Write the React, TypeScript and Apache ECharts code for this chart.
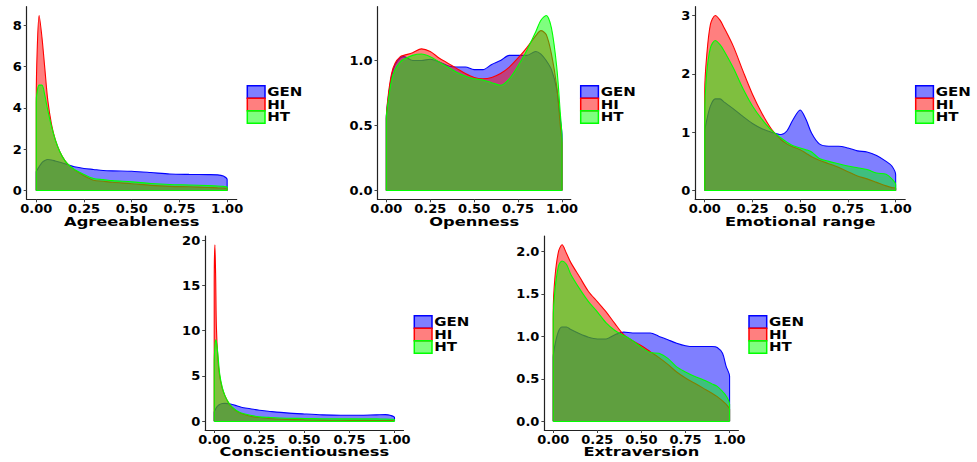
import React, { useEffect, useRef } from "react";
import * as echarts from "echarts";

// ---------- data ----------
const groups = ["GEN", "HI", "HT"];
const groupColors = ["#0000FF", "#FF0000", "#00FF00"];
const groupFills = ["rgba(0,0,255,0.5)", "rgba(255,0,0,0.5)", "rgba(0,255,0,0.5)"];

const panelTitles = ["Agreeableness", "Openness", "Emotional range", "Conscientiousness", "Extraversion"];

const xTickValues = [0, 0.25, 0.5, 0.75, 1];

// Agreeableness
const agrX = [0, 0.005, 0.015, 0.03, 0.045, 0.06, 0.08, 0.1, 0.125, 0.15, 0.175, 0.2, 0.25, 0.3, 0.35, 0.4, 0.5, 0.6, 0.7, 0.8, 0.9, 0.95, 0.98, 1];
const agrGEN = [0.9, 1.0, 1.15, 1.35, 1.45, 1.5, 1.48, 1.43, 1.37, 1.3, 1.22, 1.15, 1.07, 1.02, 0.97, 0.95, 0.93, 0.87, 0.8, 0.78, 0.77, 0.76, 0.7, 0.53];
const agrHI = [4.4, 6.8, 8.47, 7.4, 5.9, 4.4, 3.2, 2.45, 1.85, 1.45, 1.18, 1.0, 0.72, 0.5, 0.45, 0.4, 0.33, 0.25, 0.2, 0.18, 0.15, 0.13, 0.12, 0.11];
const agrHT = [4.3, 4.8, 5.1, 5.1, 4.6, 3.9, 3.1, 2.45, 1.85, 1.45, 1.2, 1.02, 0.78, 0.58, 0.53, 0.48, 0.42, 0.34, 0.29, 0.27, 0.24, 0.22, 0.2, 0.17];
const agrYTicks = [0, 2, 4, 6, 8];

// Openness
const opeX = [0, 0.01, 0.03, 0.05, 0.08, 0.1, 0.15, 0.2, 0.25, 0.3, 0.35, 0.4, 0.45, 0.5, 0.55, 0.6, 0.65, 0.7, 0.75, 0.8, 0.85, 0.88, 0.91, 0.94, 0.97, 0.99, 1];
const opeGEN = [0.55, 0.7, 0.88, 0.97, 1.02, 1.03, 1.0, 1.0, 1.01, 0.99, 0.96, 0.95, 0.95, 0.93, 0.93, 0.97, 1.0, 1.04, 1.04, 1.04, 1.07, 1.05, 1.0, 0.93, 0.78, 0.55, 0.42];
const opeHI = [0.55, 0.72, 0.9, 0.98, 1.03, 1.04, 1.06, 1.09, 1.07, 1.02, 0.98, 0.94, 0.9, 0.87, 0.86, 0.87, 0.9, 0.95, 1.02, 1.1, 1.19, 1.23, 1.2, 1.05, 0.8, 0.5, 0.35];
const opeHT = [0.55, 0.68, 0.85, 0.93, 0.99, 1.01, 1.04, 1.05, 1.03, 0.99, 0.95, 0.91, 0.88, 0.86, 0.85, 0.83, 0.81, 0.86, 0.96, 1.08, 1.22, 1.31, 1.347, 1.25, 0.95, 0.6, 0.4];
const opeYTicks = [0, 0.5, 1.0];

// Emotional range
const emoX = [0, 0.01, 0.03, 0.055, 0.08, 0.1, 0.15, 0.2, 0.25, 0.3, 0.35, 0.4, 0.43, 0.46, 0.5, 0.53, 0.56, 0.6, 0.65, 0.7, 0.75, 0.8, 0.85, 0.9, 0.95, 0.98, 1];
const emoGEN = [1.0, 1.2, 1.45, 1.57, 1.57, 1.52, 1.4, 1.27, 1.15, 1.06, 1.0, 0.96, 1.02, 1.2, 1.38, 1.22, 0.98, 0.8, 0.76, 0.76, 0.73, 0.68, 0.66, 0.6, 0.5, 0.42, 0.27];
const emoHI = [1.7, 2.3, 2.85, 3.0, 2.92, 2.8, 2.47, 2.05, 1.65, 1.32, 1.05, 0.87, 0.8, 0.75, 0.7, 0.64, 0.58, 0.52, 0.46, 0.4, 0.32, 0.25, 0.2, 0.14, 0.08, 0.05, 0.04];
const emoHT = [1.3, 2.0, 2.45, 2.57, 2.5, 2.4, 2.1, 1.75, 1.45, 1.22, 1.03, 0.9, 0.83, 0.77, 0.73, 0.7, 0.66, 0.55, 0.5, 0.46, 0.42, 0.39, 0.36, 0.3, 0.28, 0.2, 0.1];
const emoYTicks = [0, 1, 2, 3];

// Conscientiousness
const conX = [0, 0.004, 0.008, 0.012, 0.02, 0.03, 0.045, 0.06, 0.08, 0.1, 0.125, 0.15, 0.2, 0.25, 0.3, 0.4, 0.5, 0.6, 0.7, 0.8, 0.9, 0.95, 0.98, 1];
const conGEN = [1.0, 1.2, 1.35, 1.5, 1.7, 1.85, 1.95, 1.97, 1.93, 1.85, 1.7, 1.55, 1.38, 1.2, 1.1, 0.92, 0.8, 0.7, 0.66, 0.66, 0.7, 0.72, 0.62, 0.4];
const conHI = [15, 19.5, 16, 10.5, 7, 5.0, 3.6, 2.8, 2.0, 1.5, 1.1, 0.85, 0.55, 0.4, 0.3, 0.2, 0.15, 0.12, 0.1, 0.09, 0.08, 0.07, 0.06, 0.05];
const conHT = [6.5, 8.3, 9.0, 8.8, 7.5, 5.3, 3.7, 2.8, 2.05, 1.55, 1.15, 0.9, 0.65, 0.48, 0.42, 0.33, 0.3, 0.27, 0.26, 0.25, 0.25, 0.24, 0.22, 0.2];
const conYTicks = [0, 5, 10, 15, 20];

// Extraversion
const extX = [0, 0.01, 0.03, 0.05, 0.075, 0.1, 0.15, 0.2, 0.25, 0.3, 0.35, 0.4, 0.45, 0.5, 0.55, 0.6, 0.65, 0.7, 0.75, 0.8, 0.85, 0.9, 0.93, 0.96, 0.98, 1];
const extGEN = [0.75, 0.9, 1.06, 1.11, 1.11, 1.08, 1.03, 0.99, 0.97, 0.97, 1.02, 1.05, 1.04, 1.04, 1.04, 1.0, 0.96, 0.92, 0.89, 0.88, 0.88, 0.88, 0.87, 0.8, 0.65, 0.53];
const extHI = [1.28, 1.7, 2.0, 2.08, 1.98, 1.87, 1.7, 1.53, 1.41, 1.29, 1.15, 1.02, 0.95, 0.89, 0.82, 0.75, 0.67, 0.58, 0.51, 0.45, 0.39, 0.33, 0.29, 0.24, 0.2, 0.14];
const extHT = [1.2, 1.55, 1.83, 1.89, 1.85, 1.73, 1.56, 1.41, 1.29, 1.16, 1.07, 1.01, 0.95, 0.87, 0.81, 0.8, 0.74, 0.64, 0.58, 0.53, 0.49, 0.44, 0.41, 0.35, 0.3, 0.2];
const extYTicks = [0, 0.5, 1.0, 1.5, 2.0];

const panelX = [agrX, opeX, emoX, conX, extX];
const panelSeries = [
  [agrGEN, agrHI, agrHT],
  [opeGEN, opeHI, opeHT],
  [emoGEN, emoHI, emoHT],
  [conGEN, conHI, conHT],
  [extGEN, extHI, extHT],
];
const panelYTicks = [agrYTicks, opeYTicks, emoYTicks, conYTicks, extYTicks];
const panelYDecimals = [0, 1, 0, 0, 1];

// ---------- layout (pixels) ----------
const layout = [
  { l: 26.7, r: 236.7, t: 6.7, b: 199.3, legX: 247.3, legY: 85.7, titleY: 221 },
  { l: 377.5, r: 570.8, t: 6.7, b: 199.3, legX: 580.7, legY: 85.7, titleY: 221 },
  { l: 695.2, r: 905.2, t: 6.7, b: 199.3, legX: 915.7, legY: 85.7, titleY: 221 },
  { l: 205.2, r: 403.5, t: 236, b: 430, legX: 414.3, legY: 315.7, titleY: 451 },
  { l: 544.4, r: 738.4, t: 236, b: 430, legX: 749, legY: 315.7, titleY: 451 },
];

const FONT = "DejaVu Sans";

export default function App() {
  const ref = useRef<HTMLDivElement>(null);

  useEffect(() => {
    if (!ref.current) return;
    const chart = echarts.init(ref.current, undefined, { renderer: "svg" });

    const grids: any[] = [];
    const xAxes: any[] = [];
    const yAxes: any[] = [];
    const series: any[] = [];
    const graphics: any[] = [];

    layout.forEach((p, i) => {
      grids.push({
        left: p.l,
        top: p.t,
        width: p.r - p.l,
        height: p.b - p.t,
        containLabel: false,
        outerBoundsMode: "none",
      });
      const xs = panelX[i];
      const maxV = Math.max(...panelSeries[i].map((s) => Math.max(...s)));
      const axisLine = { show: true, onZero: false, lineStyle: { color: "#222", width: 1.2 } };
      const tickStyle = { show: true, length: 3, lineStyle: { color: "#444", width: 1 } };
      const labelStyle = {
        fontFamily: FONT,
        fontWeight: "bold",
        fontSize: 13,
        color: "#000",
      };
      xAxes.push({
        type: "value",
        gridIndex: i,
        min: -0.05,
        max: 1.05,
        z: 10,
        axisLine,
        axisTick: { ...tickStyle, customValues: xTickValues },
        axisLabel: {
          ...labelStyle,
          margin: 3,
          customValues: xTickValues,
          formatter: (v: number) => v.toFixed(2),
        },
        splitLine: { show: false },
      });
      const yt = panelYTicks[i];
      const dec = panelYDecimals[i];
      yAxes.push({
        type: "value",
        gridIndex: i,
        min: -0.05 * maxV,
        max: 1.05 * maxV,
        z: 10,
        axisLine,
        axisTick: { ...tickStyle, customValues: yt },
        axisLabel: {
          ...labelStyle,
          margin: 5,
          customValues: yt,
          formatter: (v: number) => v.toFixed(dec),
        },
        splitLine: { show: false },
      });
      panelSeries[i].forEach((vals, g) => {
        const data: number[][] = [[0, 0]];
        xs.forEach((x, k) => data.push([x, vals[k]]));
        data.push([1, 0]);
        const s: any = {
          type: "line",
          name: groups[g],
          xAxisIndex: i,
          yAxisIndex: i,
          z: 2 + g,
          data,
          smooth: 0.3,
          symbol: "none",
          silent: true,
          lineStyle: { color: groupColors[g], width: 1.1 },
          itemStyle: { color: groupColors[g] },
          areaStyle: { color: groupFills[g], opacity: 1 },
        };
        if (g === groups.length - 1) {
          s.markLine = {
            silent: true,
            symbol: "none",
            label: { show: false },
            lineStyle: { color: groupColors[g], width: 1.1, type: "solid" },
            data: [[{ coord: [0, 0] }, { coord: [1, 0] }]],
          };
        }
        series.push(s);
      });
      // title
      graphics.push({
        type: "text",
        x: (p.l + p.r) / 2,
        y: p.titleY,
        scaleX: 1.25,
        style: {
          text: panelTitles[i],
          align: "center",
          verticalAlign: "middle",
          fontFamily: FONT,
          fontWeight: "bold",
          fontSize: 13,
          fill: "#000",
        },
      });
      // legend
      const kh = 12.5;
      groups.forEach((name, g) => {
        graphics.push({
          type: "rect",
          shape: { x: p.legX, y: p.legY + g * kh, width: 17.7, height: kh },
          style: { fill: groupFills[g], stroke: groupColors[g], lineWidth: 1.5 },
        });
        graphics.push({
          type: "text",
          x: p.legX + 20,
          y: p.legY + g * kh + kh / 2,
          scaleX: 1.25,
          style: {
            text: name,
            align: "left",
            verticalAlign: "middle",
            fontFamily: FONT,
            fontWeight: "bold",
            fontSize: 12,
            fill: "#000",
          },
        });
      });
    });

    chart.setOption({
      animation: false,
      backgroundColor: "#fff",
      grid: grids,
      xAxis: xAxes,
      yAxis: yAxes,
      series,
      graphic: graphics,
    });

    return () => chart.dispose();
  }, []);

  return (
    <div
      ref={ref}
      style={{ position: "absolute", left: 0, top: 0, width: 977, height: 462 }}
    />
  );
}
